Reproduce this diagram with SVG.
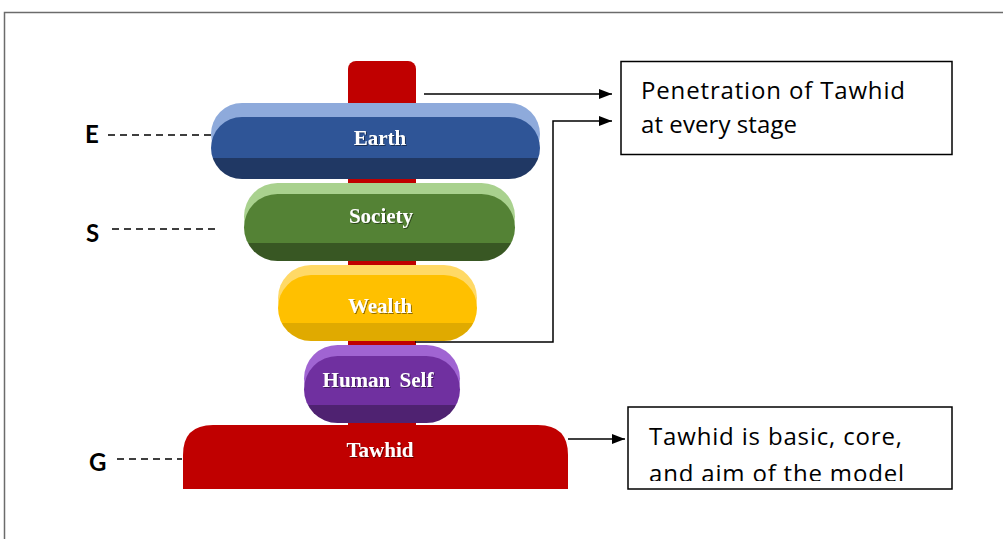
<svg xmlns="http://www.w3.org/2000/svg" width="1003" height="539" viewBox="0 0 1003 539">
  <style>
    .pt { font-family: "Liberation Serif", "Times New Roman", serif; font-weight: bold; font-size: 21px; fill: #ffffff; text-anchor: middle; }
    .lbl { font-family: Lato, "Liberation Sans", sans-serif; font-weight: bold; font-size: 24px; fill: #000; }
    .bt { font-family: "Open Sans", "Liberation Sans", sans-serif; font-size: 24px; fill: #000; }
    .dash { stroke: #000; stroke-width: 1.5; stroke-dasharray: 7 5; fill: none; }
    .con { stroke: #000; stroke-width: 1.5; fill: none; }
    .box { fill: #fff; stroke: #000; stroke-width: 1.5; }
  </style>
  <defs>
    <marker id="arr" markerWidth="13" markerHeight="10" refX="13" refY="5" orient="auto" markerUnits="userSpaceOnUse">
      <path d="M0,0 L13,5 L0,10 Z" fill="#000"/>
    </marker>
    <filter id="sh" x="-10%" y="-20%" width="120%" height="140%">
      <feDropShadow dx="1" dy="1" stdDeviation="0.6" flood-color="#000" flood-opacity="0.45"/>
    </filter>
    <linearGradient id="gE" x1="0" y1="0" x2="0" y2="1">
      <stop offset="0.665" stop-color="#2f5597"/><stop offset="0.665" stop-color="#203864"/>
    </linearGradient>
    <linearGradient id="gS" x1="0" y1="0" x2="0" y2="1">
      <stop offset="0.735" stop-color="#548235"/><stop offset="0.735" stop-color="#385723"/>
    </linearGradient>
    <linearGradient id="gW" x1="0" y1="0" x2="0" y2="1">
      <stop offset="0.727" stop-color="#ffc000"/><stop offset="0.727" stop-color="#e0aa00"/>
    </linearGradient>
    <linearGradient id="gH" x1="0" y1="0" x2="0" y2="1">
      <stop offset="0.73" stop-color="#7030a0"/><stop offset="0.73" stop-color="#4f2271"/>
    </linearGradient>
    <clipPath id="clipB2"><rect x="628" y="407" width="324" height="74"/></clipPath>
  </defs>

  <!-- outer frame -->
  <path d="M4.5,539 L4.5,12.5 L1003,12.5" fill="none" stroke="#6b6b6b" stroke-width="1.5"/>

  <!-- pole -->
  <g id="pole">
    <rect x="348" y="61" width="68" height="380" rx="8" fill="#c00000"/>
  </g>

  <!-- connectors -->
  <g id="connectors">
    <path class="dash" d="M108,135 L212,135"/>
    <path class="dash" d="M112,229 L217,229"/>
    <path class="dash" d="M117,459 L182,459"/>
    <path class="con" d="M424,94 L612,94" marker-end="url(#arr)"/>
    <path class="con" d="M415,342 L553,342 L553,121 L612,121" marker-end="url(#arr)"/>
    <path class="con" d="M568,439 L625,439" marker-end="url(#arr)"/>
  </g>

  <g id="earth">
    <rect x="211" y="103" width="329" height="62" rx="31" fill="#8eaadb"/>
    <rect x="211" y="117" width="329" height="62" rx="31" fill="url(#gE)"/>
    <text class="pt" x="380" y="145" filter="url(#sh)">Earth</text>
  </g>

  <g id="society">
    <rect x="244" y="183" width="271" height="67" rx="33.5" fill="#a9d18e"/>
    <rect x="244" y="194" width="271" height="67" rx="33.5" fill="url(#gS)"/>
    <text class="pt" x="381" y="223" filter="url(#sh)">Society</text>
  </g>

  <g id="wealth">
    <rect x="278" y="265" width="199" height="66" rx="33" fill="#ffd966"/>
    <rect x="278" y="275" width="199" height="66" rx="33" fill="url(#gW)"/>
    <text class="pt" x="380" y="313" filter="url(#sh)">Wealth</text>
  </g>

  <g id="human-self">
    <rect x="304" y="345" width="156" height="67" rx="33.5" fill="#a064d2"/>
    <rect x="304" y="356" width="156" height="67" rx="33.5" fill="url(#gH)"/>
    <text class="pt" x="378" y="387" word-spacing="4" filter="url(#sh)">Human Self</text>
  </g>

  <g id="tawhid">
    <path d="M183,489 L183,455 Q183,425 213,425 L538,425 Q568,425 568,455 L568,489 Z" fill="#c00000"/>
    <text class="pt" x="380" y="457" filter="url(#sh)">Tawhid</text>
  </g>

  <g id="label-e"><text class="lbl" x="85" y="143">E</text></g>
  <g id="label-s"><text class="lbl" x="86" y="242">S</text></g>
  <g id="label-g"><text class="lbl" x="89" y="471">G</text></g>

  <g id="box-penetration">
    <rect class="box" x="621" y="61.5" width="331" height="93"/>
    <text class="bt" x="641" y="99" textLength="264" lengthAdjust="spacing">Penetration of Tawhid</text>
    <text class="bt" x="641" y="133" textLength="156" lengthAdjust="spacing">at every stage</text>
  </g>

  <g id="box-core">
    <rect class="box" x="628" y="407" width="324" height="82"/>
    <text class="bt" x="649" y="445" textLength="253" lengthAdjust="spacing">Tawhid is basic, core,</text>
    <text class="bt" x="649" y="482" textLength="255" lengthAdjust="spacing" clip-path="url(#clipB2)">and aim of the model</text>
  </g>
</svg>
